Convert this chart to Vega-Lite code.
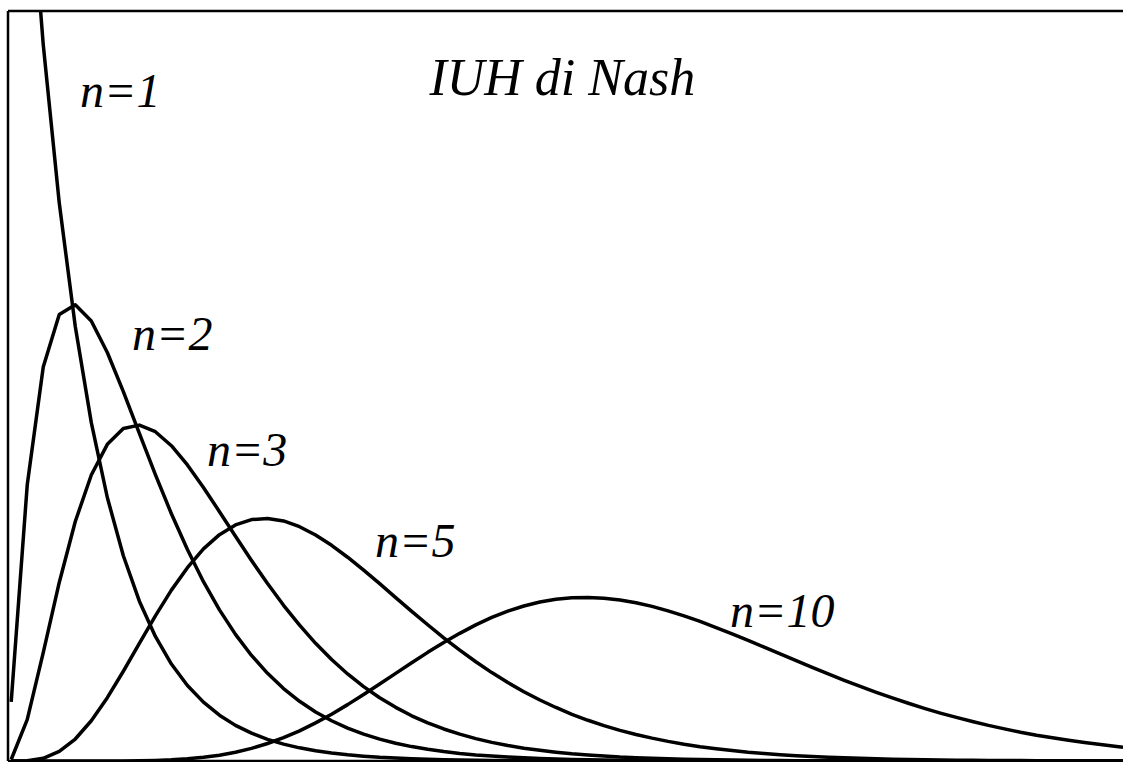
{
  "$schema": "https://vega.github.io/schema/vega-lite/v6.json",
  "description": "Nash instantaneous unit hydrograph h(t) = t^(n-1) e^(-t) / (n-1)! for n = 1, 2, 3, 5, 10 (k = 1).",
  "autosize": {"type": "none"},
  "width": 1115,
  "height": 750,
  "padding": {"left": 8, "top": 11, "right": 0, "bottom": 1},
  "background": "white",
  "config": {"view": {"stroke": null}},
  "datasets": {
    "iuh": [
      {"n": 1, "t": 0.05, "h": 0.9512}, {"n": 1, "t": 0.3, "h": 0.7408}, {"n": 1, "t": 0.55, "h": 0.577}, {"n": 1, "t": 0.8, "h": 0.4493},
      {"n": 1, "t": 1.05, "h": 0.3499}, {"n": 1, "t": 1.3, "h": 0.2725}, {"n": 1, "t": 1.55, "h": 0.2122}, {"n": 1, "t": 1.8, "h": 0.1653},
      {"n": 1, "t": 2.05, "h": 0.1287}, {"n": 1, "t": 2.3, "h": 0.1003}, {"n": 1, "t": 2.55, "h": 0.0781}, {"n": 1, "t": 2.8, "h": 0.0608},
      {"n": 1, "t": 3.05, "h": 0.0474}, {"n": 1, "t": 3.3, "h": 0.0369}, {"n": 1, "t": 3.55, "h": 0.0287}, {"n": 1, "t": 3.8, "h": 0.0224},
      {"n": 1, "t": 4.05, "h": 0.0174}, {"n": 1, "t": 4.3, "h": 0.0136}, {"n": 1, "t": 4.55, "h": 0.0106}, {"n": 1, "t": 4.8, "h": 0.0082},
      {"n": 1, "t": 5.05, "h": 0.0064}, {"n": 1, "t": 5.3, "h": 0.005}, {"n": 1, "t": 5.55, "h": 0.0039}, {"n": 1, "t": 5.8, "h": 0.003},
      {"n": 1, "t": 6.05, "h": 0.0024}, {"n": 1, "t": 6.3, "h": 0.0018}, {"n": 1, "t": 6.55, "h": 0.0014}, {"n": 1, "t": 6.8, "h": 0.0011},
      {"n": 1, "t": 7.05, "h": 0.0009}, {"n": 1, "t": 7.3, "h": 0.0007}, {"n": 1, "t": 7.55, "h": 0.0005}, {"n": 1, "t": 7.8, "h": 0.0004},
      {"n": 1, "t": 8.05, "h": 0.0003}, {"n": 1, "t": 8.3, "h": 0.0002}, {"n": 1, "t": 8.8, "h": 0.0002}, {"n": 1, "t": 9.3, "h": 0.0001},
      {"n": 1, "t": 17.4, "h": 0},

      {"n": 2, "t": 0.05, "h": 0.0476}, {"n": 2, "t": 0.3, "h": 0.2222}, {"n": 2, "t": 0.55, "h": 0.3173}, {"n": 2, "t": 0.8, "h": 0.3595},
      {"n": 2, "t": 1.05, "h": 0.3674}, {"n": 2, "t": 1.3, "h": 0.3543}, {"n": 2, "t": 1.55, "h": 0.329}, {"n": 2, "t": 1.8, "h": 0.2975},
      {"n": 2, "t": 2.05, "h": 0.2639}, {"n": 2, "t": 2.3, "h": 0.2306}, {"n": 2, "t": 2.55, "h": 0.1991}, {"n": 2, "t": 2.8, "h": 0.1703},
      {"n": 2, "t": 3.05, "h": 0.1444}, {"n": 2, "t": 3.3, "h": 0.1217}, {"n": 2, "t": 3.55, "h": 0.102}, {"n": 2, "t": 3.8, "h": 0.085},
      {"n": 2, "t": 4.05, "h": 0.0706}, {"n": 2, "t": 4.3, "h": 0.0583}, {"n": 2, "t": 4.55, "h": 0.0481}, {"n": 2, "t": 4.8, "h": 0.0395},
      {"n": 2, "t": 5.05, "h": 0.0324}, {"n": 2, "t": 5.3, "h": 0.0265}, {"n": 2, "t": 5.55, "h": 0.0216}, {"n": 2, "t": 5.8, "h": 0.0176},
      {"n": 2, "t": 6.05, "h": 0.0143}, {"n": 2, "t": 6.3, "h": 0.0116}, {"n": 2, "t": 6.55, "h": 0.0094}, {"n": 2, "t": 6.8, "h": 0.0076},
      {"n": 2, "t": 7.05, "h": 0.0061}, {"n": 2, "t": 7.3, "h": 0.0049}, {"n": 2, "t": 7.55, "h": 0.004}, {"n": 2, "t": 7.8, "h": 0.0032},
      {"n": 2, "t": 8.05, "h": 0.0026}, {"n": 2, "t": 8.3, "h": 0.0021}, {"n": 2, "t": 8.55, "h": 0.0017}, {"n": 2, "t": 8.8, "h": 0.0013},
      {"n": 2, "t": 9.05, "h": 0.0011}, {"n": 2, "t": 9.3, "h": 0.0009}, {"n": 2, "t": 9.55, "h": 0.0007}, {"n": 2, "t": 9.8, "h": 0.0005},
      {"n": 2, "t": 10.05, "h": 0.0004}, {"n": 2, "t": 10.3, "h": 0.0003}, {"n": 2, "t": 10.55, "h": 0.0003}, {"n": 2, "t": 10.8, "h": 0.0002},
      {"n": 2, "t": 11.05, "h": 0.0002}, {"n": 2, "t": 11.3, "h": 0.0001}, {"n": 2, "t": 17.4, "h": 0},

      {"n": 3, "t": 0.05, "h": 0.0012}, {"n": 3, "t": 0.3, "h": 0.0333}, {"n": 3, "t": 0.55, "h": 0.0873}, {"n": 3, "t": 0.8, "h": 0.1438},
      {"n": 3, "t": 1.05, "h": 0.1929}, {"n": 3, "t": 1.3, "h": 0.2303}, {"n": 3, "t": 1.55, "h": 0.255}, {"n": 3, "t": 1.8, "h": 0.2678},
      {"n": 3, "t": 2.05, "h": 0.2705}, {"n": 3, "t": 2.3, "h": 0.2652}, {"n": 3, "t": 2.55, "h": 0.2539}, {"n": 3, "t": 2.8, "h": 0.2384},
      {"n": 3, "t": 3.05, "h": 0.2203}, {"n": 3, "t": 3.3, "h": 0.2008}, {"n": 3, "t": 3.55, "h": 0.181}, {"n": 3, "t": 3.8, "h": 0.1615},
      {"n": 3, "t": 4.05, "h": 0.1429}, {"n": 3, "t": 4.3, "h": 0.1254}, {"n": 3, "t": 4.55, "h": 0.1094}, {"n": 3, "t": 4.8, "h": 0.0948},
      {"n": 3, "t": 5.05, "h": 0.0817}, {"n": 3, "t": 5.3, "h": 0.0701}, {"n": 3, "t": 5.55, "h": 0.0599}, {"n": 3, "t": 5.8, "h": 0.0509},
      {"n": 3, "t": 6.05, "h": 0.0432}, {"n": 3, "t": 6.3, "h": 0.0364}, {"n": 3, "t": 6.55, "h": 0.0307}, {"n": 3, "t": 6.8, "h": 0.0258},
      {"n": 3, "t": 7.05, "h": 0.0216}, {"n": 3, "t": 7.3, "h": 0.018}, {"n": 3, "t": 7.55, "h": 0.015}, {"n": 3, "t": 7.8, "h": 0.0125},
      {"n": 3, "t": 8.05, "h": 0.0103}, {"n": 3, "t": 8.3, "h": 0.0086}, {"n": 3, "t": 8.55, "h": 0.0071}, {"n": 3, "t": 8.8, "h": 0.0058},
      {"n": 3, "t": 9.05, "h": 0.0048}, {"n": 3, "t": 9.3, "h": 0.004}, {"n": 3, "t": 9.55, "h": 0.0032}, {"n": 3, "t": 9.8, "h": 0.0027},
      {"n": 3, "t": 10.05, "h": 0.0022}, {"n": 3, "t": 10.3, "h": 0.0018}, {"n": 3, "t": 10.55, "h": 0.0015}, {"n": 3, "t": 10.8, "h": 0.0012},
      {"n": 3, "t": 11.05, "h": 0.001}, {"n": 3, "t": 11.3, "h": 0.0008}, {"n": 3, "t": 11.55, "h": 0.0006}, {"n": 3, "t": 11.8, "h": 0.0005},
      {"n": 3, "t": 12.05, "h": 0.0004}, {"n": 3, "t": 12.3, "h": 0.0003}, {"n": 3, "t": 12.55, "h": 0.0003}, {"n": 3, "t": 12.8, "h": 0.0002},
      {"n": 3, "t": 13.05, "h": 0.0002}, {"n": 3, "t": 13.3, "h": 0.0001}, {"n": 3, "t": 17.4, "h": 0},

      {"n": 5, "t": 0.05, "h": 0}, {"n": 5, "t": 0.3, "h": 0.0003}, {"n": 5, "t": 0.55, "h": 0.0022}, {"n": 5, "t": 0.8, "h": 0.0077},
      {"n": 5, "t": 1.05, "h": 0.0177}, {"n": 5, "t": 1.3, "h": 0.0324}, {"n": 5, "t": 1.55, "h": 0.051}, {"n": 5, "t": 1.8, "h": 0.0723},
      {"n": 5, "t": 2.05, "h": 0.0947}, {"n": 5, "t": 2.3, "h": 0.1169}, {"n": 5, "t": 2.55, "h": 0.1376}, {"n": 5, "t": 2.8, "h": 0.1557},
      {"n": 5, "t": 3.05, "h": 0.1708}, {"n": 5, "t": 3.3, "h": 0.1823}, {"n": 5, "t": 3.55, "h": 0.1901}, {"n": 5, "t": 3.8, "h": 0.1944},
      {"n": 5, "t": 4.05, "h": 0.1953}, {"n": 5, "t": 4.3, "h": 0.1933}, {"n": 5, "t": 4.55, "h": 0.1887}, {"n": 5, "t": 4.8, "h": 0.182},
      {"n": 5, "t": 5.05, "h": 0.1737}, {"n": 5, "t": 5.3, "h": 0.1641}, {"n": 5, "t": 5.55, "h": 0.1537}, {"n": 5, "t": 5.8, "h": 0.1428},
      {"n": 5, "t": 6.05, "h": 0.1316}, {"n": 5, "t": 6.3, "h": 0.1205}, {"n": 5, "t": 6.55, "h": 0.1097}, {"n": 5, "t": 6.8, "h": 0.0992},
      {"n": 5, "t": 7.05, "h": 0.0893}, {"n": 5, "t": 7.3, "h": 0.0799}, {"n": 5, "t": 7.55, "h": 0.0712}, {"n": 5, "t": 7.8, "h": 0.0632},
      {"n": 5, "t": 8.05, "h": 0.0558}, {"n": 5, "t": 8.3, "h": 0.0491}, {"n": 5, "t": 8.55, "h": 0.0431}, {"n": 5, "t": 8.8, "h": 0.0376},
      {"n": 5, "t": 9.05, "h": 0.0328}, {"n": 5, "t": 9.3, "h": 0.0285}, {"n": 5, "t": 9.55, "h": 0.0247}, {"n": 5, "t": 9.8, "h": 0.0213},
      {"n": 5, "t": 10.05, "h": 0.0184}, {"n": 5, "t": 10.3, "h": 0.0158}, {"n": 5, "t": 10.55, "h": 0.0135}, {"n": 5, "t": 10.8, "h": 0.0115},
      {"n": 5, "t": 11.05, "h": 0.0099}, {"n": 5, "t": 11.3, "h": 0.0084}, {"n": 5, "t": 11.55, "h": 0.0071}, {"n": 5, "t": 11.8, "h": 0.0061},
      {"n": 5, "t": 12.05, "h": 0.0051}, {"n": 5, "t": 12.3, "h": 0.0043}, {"n": 5, "t": 12.55, "h": 0.0037}, {"n": 5, "t": 12.8, "h": 0.0031},
      {"n": 5, "t": 13.05, "h": 0.0026}, {"n": 5, "t": 13.3, "h": 0.0022}, {"n": 5, "t": 13.55, "h": 0.0018}, {"n": 5, "t": 13.8, "h": 0.0015},
      {"n": 5, "t": 14.05, "h": 0.0013}, {"n": 5, "t": 14.3, "h": 0.0011}, {"n": 5, "t": 14.55, "h": 0.0009}, {"n": 5, "t": 14.8, "h": 0.0007},
      {"n": 5, "t": 15.05, "h": 0.0006}, {"n": 5, "t": 15.3, "h": 0.0005}, {"n": 5, "t": 15.55, "h": 0.0004}, {"n": 5, "t": 15.8, "h": 0.0004},
      {"n": 5, "t": 16.05, "h": 0.0003}, {"n": 5, "t": 16.3, "h": 0.0002}, {"n": 5, "t": 16.55, "h": 0.0002}, {"n": 5, "t": 16.8, "h": 0.0002},
      {"n": 5, "t": 17.05, "h": 0.0001}, {"n": 5, "t": 17.3, "h": 0.0001}, {"n": 5, "t": 17.4, "h": 0.0001},

      {"n": 10, "t": 0.05, "h": 0}, {"n": 10, "t": 0.3, "h": 0}, {"n": 10, "t": 0.55, "h": 0}, {"n": 10, "t": 0.8, "h": 0},
      {"n": 10, "t": 1.05, "h": 0}, {"n": 10, "t": 1.3, "h": 0}, {"n": 10, "t": 1.55, "h": 0}, {"n": 10, "t": 1.8, "h": 0.0001},
      {"n": 10, "t": 2.05, "h": 0.0002}, {"n": 10, "t": 2.3, "h": 0.0005}, {"n": 10, "t": 2.55, "h": 0.001}, {"n": 10, "t": 2.8, "h": 0.0018},
      {"n": 10, "t": 3.05, "h": 0.003}, {"n": 10, "t": 3.3, "h": 0.0047}, {"n": 10, "t": 3.55, "h": 0.0071}, {"n": 10, "t": 3.8, "h": 0.0102},
      {"n": 10, "t": 4.05, "h": 0.0141}, {"n": 10, "t": 4.3, "h": 0.0188}, {"n": 10, "t": 4.55, "h": 0.0243}, {"n": 10, "t": 4.8, "h": 0.0307},
      {"n": 10, "t": 5.05, "h": 0.0377}, {"n": 10, "t": 5.3, "h": 0.0454}, {"n": 10, "t": 5.55, "h": 0.0535}, {"n": 10, "t": 5.8, "h": 0.062},
      {"n": 10, "t": 6.05, "h": 0.0706}, {"n": 10, "t": 6.3, "h": 0.0791}, {"n": 10, "t": 6.55, "h": 0.0875}, {"n": 10, "t": 6.8, "h": 0.0954},
      {"n": 10, "t": 7.05, "h": 0.1028}, {"n": 10, "t": 7.3, "h": 0.1096}, {"n": 10, "t": 7.55, "h": 0.1156}, {"n": 10, "t": 7.8, "h": 0.1207},
      {"n": 10, "t": 8.05, "h": 0.1248}, {"n": 10, "t": 8.3, "h": 0.128}, {"n": 10, "t": 8.55, "h": 0.1302}, {"n": 10, "t": 8.8, "h": 0.1314},
      {"n": 10, "t": 9.05, "h": 0.1317}, {"n": 10, "t": 9.3, "h": 0.1311}, {"n": 10, "t": 9.55, "h": 0.1296}, {"n": 10, "t": 9.8, "h": 0.1274},
      {"n": 10, "t": 10.05, "h": 0.1245}, {"n": 10, "t": 10.3, "h": 0.1209}, {"n": 10, "t": 10.55, "h": 0.1169}, {"n": 10, "t": 10.8, "h": 0.1124},
      {"n": 10, "t": 11.05, "h": 0.1075}, {"n": 10, "t": 11.3, "h": 0.1024}, {"n": 10, "t": 11.55, "h": 0.0971}, {"n": 10, "t": 11.8, "h": 0.0917},
      {"n": 10, "t": 12.05, "h": 0.0863}, {"n": 10, "t": 12.3, "h": 0.0808}, {"n": 10, "t": 12.55, "h": 0.0754}, {"n": 10, "t": 12.8, "h": 0.0702},
      {"n": 10, "t": 13.05, "h": 0.065}, {"n": 10, "t": 13.3, "h": 0.0601}, {"n": 10, "t": 13.55, "h": 0.0553}, {"n": 10, "t": 13.8, "h": 0.0508},
      {"n": 10, "t": 14.05, "h": 0.0465}, {"n": 10, "t": 14.3, "h": 0.0424}, {"n": 10, "t": 14.55, "h": 0.0386}, {"n": 10, "t": 14.8, "h": 0.0351},
      {"n": 10, "t": 15.05, "h": 0.0318}, {"n": 10, "t": 15.3, "h": 0.0287}, {"n": 10, "t": 15.55, "h": 0.0259}, {"n": 10, "t": 15.8, "h": 0.0232},
      {"n": 10, "t": 16.05, "h": 0.0208}, {"n": 10, "t": 16.3, "h": 0.0187}, {"n": 10, "t": 16.55, "h": 0.0167}, {"n": 10, "t": 16.8, "h": 0.0149},
      {"n": 10, "t": 17.05, "h": 0.0132}, {"n": 10, "t": 17.3, "h": 0.0117}, {"n": 10, "t": 17.4, "h": 0.0111}
    ],
    "labels": [
      {"label": "n=1", "t": 1.124, "h": 0.5267},
      {"label": "n=2", "t": 1.935, "h": 0.331},
      {"label": "n=3", "t": 3.105, "h": 0.2376},
      {"label": "n=5", "t": 5.727, "h": 0.1643},
      {"label": "n=10", "t": 11.267, "h": 0.1079},
      {"label": "IUH di Nash", "t": 8.65, "h": 0.5364}
    ],
    "frame": [
      {"side": "left", "t0": 0, "t1": 0, "h0": 0, "h1": 0.604},
      {"side": "top", "t0": 0, "t1": 17.4, "h0": 0.604, "h1": 0.604},
      {"side": "bottom", "t0": 0, "t1": 17.4, "h0": 0, "h1": 0}
    ]
  },
  "layer": [
    {
      "data": {"name": "iuh"},
      "mark": {"type": "line", "color": "black", "strokeWidth": 3.5, "strokeJoin": "round", "clip": true},
      "encoding": {
        "x": {"field": "t", "type": "quantitative", "scale": {"domain": [0, 17.4], "nice": false, "zero": false}, "axis": null},
        "y": {"field": "h", "type": "quantitative", "scale": {"domain": [0, 0.604], "nice": false}, "axis": null},
        "detail": {"field": "n", "type": "nominal"}
      }
    },
    {
      "data": {"name": "frame"},
      "mark": {"type": "rule", "color": "black", "strokeWidth": 2.5},
      "encoding": {
        "x": {"field": "t0", "type": "quantitative"},
        "x2": {"field": "t1"},
        "y": {"field": "h0", "type": "quantitative"},
        "y2": {"field": "h1"}
      }
    },
    {
      "data": {"name": "labels"},
      "transform": [{"filter": "datum.label !== 'IUH di Nash'"}],
      "mark": {"type": "text", "align": "left", "baseline": "alphabetic", "font": "Times New Roman, Liberation Serif, serif", "fontStyle": "italic", "fontSize": 48, "color": "black"},
      "encoding": {
        "x": {"field": "t", "type": "quantitative"},
        "y": {"field": "h", "type": "quantitative"},
        "text": {"field": "label", "type": "nominal"}
      }
    },
    {
      "data": {"name": "labels"},
      "transform": [{"filter": "datum.label === 'IUH di Nash'"}],
      "mark": {"type": "text", "align": "center", "baseline": "alphabetic", "font": "Times New Roman, Liberation Serif, serif", "fontStyle": "italic", "fontSize": 52, "color": "black"},
      "encoding": {
        "x": {"field": "t", "type": "quantitative"},
        "y": {"field": "h", "type": "quantitative"},
        "text": {"field": "label", "type": "nominal"}
      }
    }
  ]
}
